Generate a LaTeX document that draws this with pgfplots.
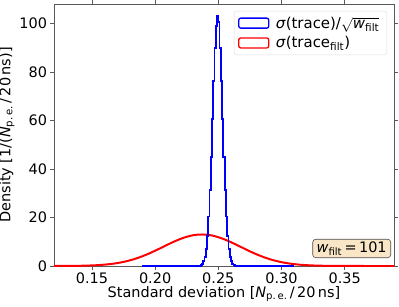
\documentclass[border=0pt]{standalone}
\usepackage{pgfplots}
\pgfplotsset{compat=1.18}
\usepackage{amsmath}
\usepackage{fontspec}
\setmainfont{DejaVu Sans}
\definecolor{wheat}{RGB}{245,222,179}
\definecolor{mblue}{RGB}{0,0,255}
\definecolor{mred}{RGB}{255,0,0}
\newcommand{\Npe}{\textit{N}\textsubscript{p.\,e.}}
\begin{document}
\begin{tikzpicture}
\begin{axis}[
  scale only axis,
  width=340bp, height=262bp,
  xmin=0.12, xmax=0.389,
  ymin=0, ymax=108,
  xtick={0.15,0.20,0.25,0.30,0.35},
  ytick={0,20,40,60,80,100},
  xticklabel style={/pgf/number format/.cd,fixed,fixed zerofill,precision=2},
  /pgf/number format/assume math mode=true,
  tick align=outside,
  tick style={gray!70!black, line width=0.6pt},
  major tick length=3.5bp,
  axis line style={gray!70!black, line width=0.7pt},
  ticklabel style={font=\fontsize{14.5}{17}\selectfont},
  label style={font=\fontsize{14.5}{17}\selectfont},
  xlabel={Standard deviation [\Npe\,/\,20\,ns]},
  ylabel={Density [1/(\Npe\,/\,20\,ns)]},
  xlabel style={yshift=4bp},
  ylabel style={yshift=-2bp},
  legend style={at={(1,1)}, anchor=north east, xshift=-7bp, yshift=-7bp,
    draw=gray!25, rounded corners=2bp, fill=white,
    font=\fontsize{15}{18}\selectfont, inner xsep=4bp, inner ysep=2bp,
    nodes={inner sep=3.5bp},
    /tikz/every odd column/.append style={column sep=3bp}},
  legend cell align=left,
  legend image code/.code={\draw[#1, fill=none, line width=1.3pt] (0bp,-5bp) rectangle (30bp,5bp);},
]
% red curve (filtered trace)
\addplot[mred, line width=2pt, smooth, forget plot] coordinates {
(0.120,0.009) (0.125,0.017) (0.130,0.030) (0.135,0.052) (0.140,0.088)
(0.145,0.146) (0.150,0.234) (0.155,0.367) (0.160,0.560) (0.165,0.831)
(0.170,1.202) (0.175,1.690) (0.180,2.318) (0.185,3.095) (0.190,4.027)
(0.195,5.100) (0.200,6.289) (0.205,7.553) (0.210,8.831) (0.215,10.06)
(0.220,11.15) (0.225,12.04) (0.230,12.67) (0.235,12.97) (0.240,12.94)
(0.245,12.57) (0.250,11.88) (0.255,10.95) (0.260,9.82) (0.265,8.58)
(0.270,7.30) (0.275,6.04) (0.280,4.875) (0.285,3.830) (0.290,2.929)
(0.295,2.181) (0.300,1.583) (0.305,1.118) (0.310,0.769) (0.315,0.515)
(0.320,0.336) (0.325,0.214) (0.330,0.132) (0.335,0.080) (0.340,0.047)
(0.345,0.027) (0.350,0.015) (0.360,0.004) (0.370,0.001) (0.380,0) (0.389,0)
};
% blue histogram
\addplot[mblue, line width=1.8pt, const plot mark left] coordinates {
(0.190,0) (0.235,0.16) (0.236,0.40) (0.237,0.90) (0.238,1.92) (0.239,3.82)
(0.240,7.14) (0.241,12.5) (0.242,20.4) (0.243,31.3) (0.244,45.0)
(0.245,60.5) (0.246,76.1) (0.247,89.7) (0.248,99.0) (0.249,103.0)
(0.250,100.5) (0.251,89.7) (0.252,76.1) (0.253,60.5) (0.254,45.0)
(0.255,31.3) (0.256,20.4) (0.257,12.5) (0.258,7.14) (0.259,3.82)
(0.260,1.92) (0.261,0.90) (0.262,0.40) (0.263,0.16) (0.264,0) (0.310,0)
};
\addlegendentry{\textit{σ}(trace)/$\sqrt{\text{\itshape w}_{\text{filt}}}$}
\addlegendimage{mred}
\addlegendentry{\textit{σ}(trace\textsubscript{filt})}
\node[anchor=south east, fill=wheat!75, draw=gray!60!black, rounded corners=3bp,
  line width=0.6pt, inner xsep=4bp, inner ysep=2.5bp,
  font=\fontsize{14.5}{17}\selectfont]
  at (rel axis cs:1,0) [xshift=-3bp, yshift=8bp]
  {\textit{w}\textsubscript{filt}\,=\,101};
\end{axis}
\pgfresetboundingbox
\useasboundingbox ([xshift=-54bp,yshift=-41bp]current axis.south west) rectangle ([xshift=5bp,yshift=4bp]current axis.north east);
\end{tikzpicture}
\end{document}
